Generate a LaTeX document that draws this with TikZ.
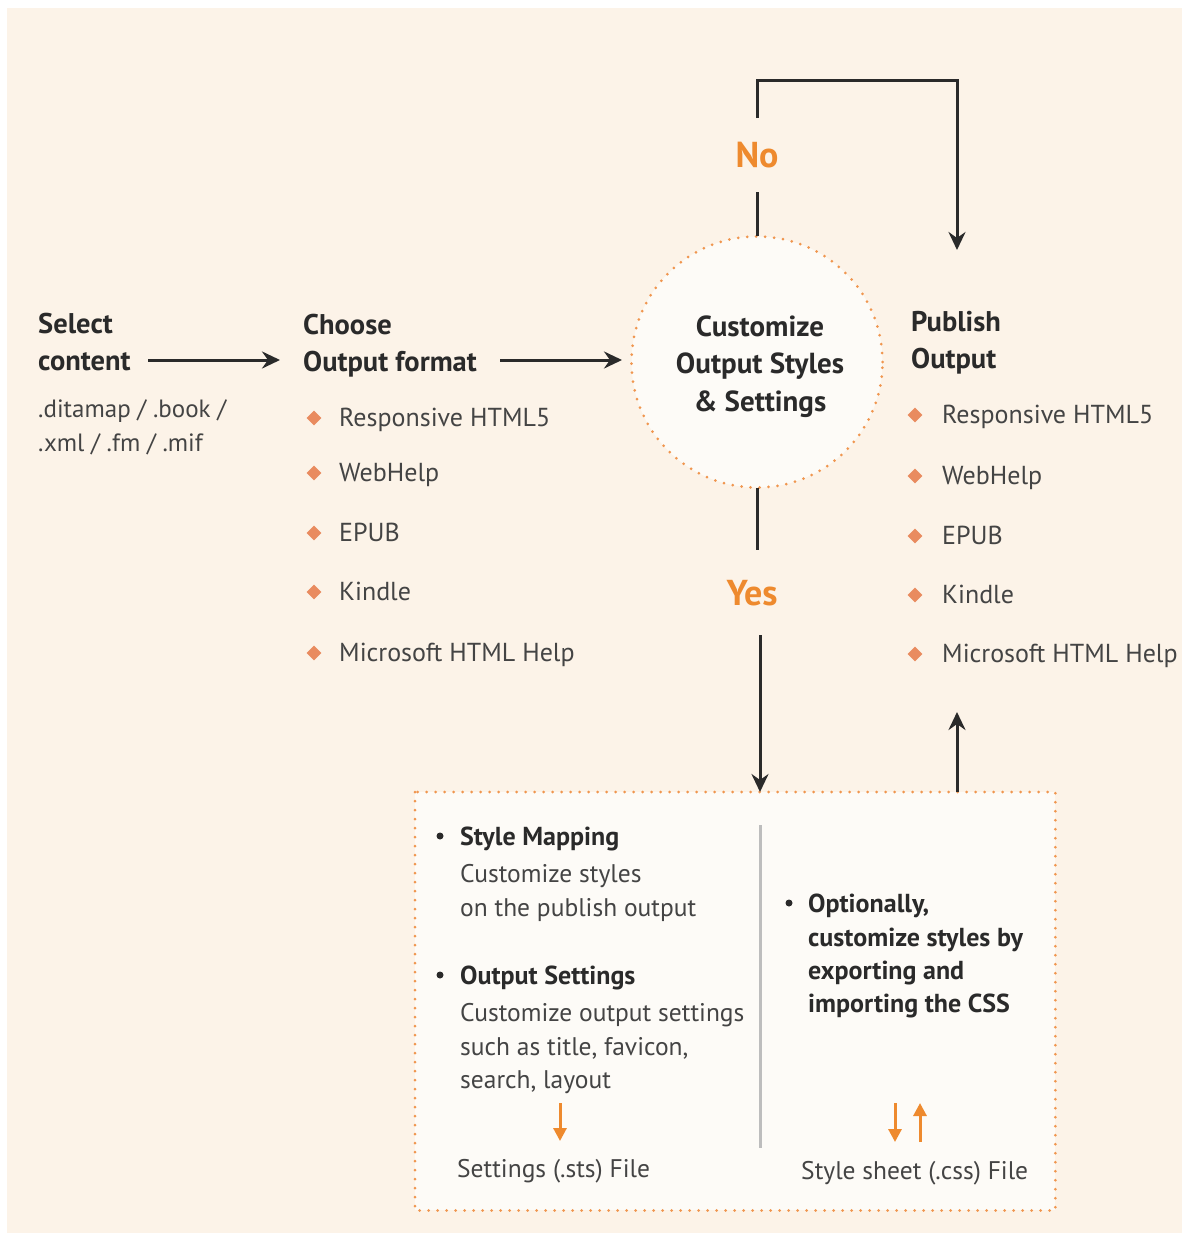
\documentclass[tikz,border=0pt]{standalone}
\usepackage{fontspec}
\setmainfont{PT Sans}
\usetikzlibrary{arrows.meta,shapes.geometric}
\definecolor{bgpeach}{HTML}{FCF3E8}
\definecolor{innerfill}{HTML}{FDFBF7}
\definecolor{dotorange}{HTML}{F0964F}
\definecolor{txtorange}{HTML}{EE8A2E}
\definecolor{bulorange}{HTML}{E98B5F}
\definecolor{txtdark}{HTML}{2A2A2A}
\definecolor{txtgray}{HTML}{444444}
\definecolor{divgray}{HTML}{BDBDBD}
\begin{document}
\begin{tikzpicture}[x=1pt,y=-1pt,
  hd/.style={font=\bfseries\fontsize{28.5}{32}\selectfont, text=txtdark, inner sep=0pt, anchor=base west},
  hdc/.style={font=\bfseries\fontsize{29}{32}\selectfont, text=txtdark, inner sep=0pt, anchor=base},
  item/.style={font=\fontsize{26}{30}\selectfont, text=txtgray, inner sep=0pt, anchor=base west},
  sub/.style={font=\fontsize{25}{30}\selectfont, text=txtgray, inner sep=0pt, anchor=base west},
  bxb/.style={font=\bfseries\fontsize{26}{30}\selectfont, text=txtdark, inner sep=0pt, anchor=base west},
  bxt/.style={font=\fontsize{25.5}{30}\selectfont, text=txtgray, inner sep=0pt, anchor=base west},
  yn/.style={font=\bfseries\fontsize{36}{40}\selectfont, text=txtorange, inner sep=0pt, anchor=base},
  dia/.style={diamond, fill=bulorange, minimum width=15pt, minimum height=15pt, inner sep=0pt},
  dot/.style={circle, fill=txtdark, minimum size=7pt, inner sep=0pt},
  dottedline/.style={draw=dotorange, line width=3pt, line cap=round, dash pattern=on 0pt off 9pt},
  ln/.style={draw=txtdark, line width=3pt},
  arr/.style={ln, -{Stealth[length=18pt,width=17pt,inset=6pt]}},
  oarr/.style={draw=txtorange, line width=3pt, -{Triangle[length=13pt,width=13pt]}}
]
\useasboundingbox (0,0) rectangle (1182,1234);
\fill[bgpeach] (7,8) rectangle (1182,1233);

% Select content
\node[hd] (sel1) at (38,333) {Select};
\node[hd] (sel2) at (38,370) {content};
\node[sub] (ext1) at (38,417) {.ditamap / .book /};
\node[sub] (ext2) at (38,451) {.xml / .fm / .mif};

% Choose output format
\node[hd] (ch1) at (303,334) {Choose};
\node[hd] (ch2) at (303,371) {Output format};
\foreach \i/\y/\t in {1/426/Responsive HTML5, 2/481/WebHelp, 3/541/EPUB, 4/600/Kindle, 5/661/Microsoft HTML Help}{
  \node[dia] (lb\i) at (314,\y-8) {};
  \node[item] (lt\i) at (339,\y) {\t};
}

% Circle
\node[circle, minimum size=251pt, inner sep=0pt, fill=innerfill] (circ) at (757,362) {};
\draw[dottedline] (circ.center) circle[radius=125.5pt];
\node[hdc] (c1) at (760,336) {Customize};
\node[hdc] (c2) at (760,373) {Output Styles};
\node[hdc] (c3) at (760,411) {\& Settings};

% Publish output
\node[hd] (pub1) at (911,331) {Publish};
\node[hd] (pub2) at (911,368) {Output};
\foreach \i/\y/\t in {1/423/Responsive HTML5, 2/484/WebHelp, 3/544/EPUB, 4/603/Kindle, 5/662/Microsoft HTML Help}{
  \node[dia] (rb\i) at (915,\y-8) {};
  \node[item] (rt\i) at (942,\y) {\t};
}

% Arrows between columns
\coordinate (a1s) at (148,360);
\coordinate (a1e) at (280,360);
\coordinate (a2s) at (500,360);
\coordinate (a2e) at (622,360);
\draw[arr] (a1s) -- (a1e);
\draw[arr] (a2s) -- (a2e);

% No loop
\node[yn] (no) at (757,167) {No};
\coordinate (noA) at (757,192);
\coordinate (noB) at (757,118);
\coordinate (noC) at (757,80);
\coordinate (noD) at (957,250);
\draw[ln] (circ.north) -- (noA);
\draw[arr] (noB) -- (noC) -| (noD);

% Yes
\node[yn] (yes) at (752,605) {Yes};
\coordinate (yesA) at (757,550);
\coordinate (yesB) at (760,635);
\draw[ln] (circ.south) -- (yesA);

% Bottom box
\node[rectangle, minimum width=640pt, minimum height=418pt, inner sep=0pt, anchor=north west, fill=innerfill] (box) at (415,792) {};
\draw[dottedline] (box.north west) rectangle (box.south east);
\coordinate (boxIn) at (760,792);
\coordinate (boxOut) at (957,792);
\coordinate (pubIn) at (957,712);
\draw[arr] (yesB) -- (boxIn);
\draw[arr] (boxOut) -- (pubIn);

\coordinate (divT) at (760,825);
\coordinate (divB) at (760,1148);
\draw[draw=divgray, line width=3pt] (divT) -- (divB);

% left column
\node[dot] (d1) at (440,836) {};
\node[bxb] (sm) at (460,845) {Style Mapping};
\node[bxt] (sm1) at (460,882) {Customize styles};
\node[bxt] (sm2) at (460,916) {on the publish output};
\node[dot] (d2) at (440,975) {};
\node[bxb] (os) at (460,984) {Output Settings};
\node[bxt] (os1) at (460,1021) {Customize output settings};
\node[bxt] (os2) at (460,1055) {such as title, favicon,};
\node[bxt] (os3) at (460,1088) {search, layout};
\coordinate (sa1) at (560,1103);
\coordinate (sa2) at (560,1141);
\draw[oarr] (sa1) -- (sa2);
\node[bxt] (stsf) at (457,1177) {Settings (.sts) File};

% right column
\node[dot] (d3) at (789,903) {};
\node[bxb] (op1) at (808,912) {Optionally,};
\node[bxb] (op2) at (808,946) {customize styles by};
\node[bxb] (op3) at (808,979) {exporting and};
\node[bxb] (op4) at (808,1012) {importing the CSS};
\coordinate (ca1) at (895,1103);
\coordinate (ca2) at (895,1142);
\coordinate (cb1) at (920,1142);
\coordinate (cb2) at (920,1103);
\draw[oarr] (ca1) -- (ca2);
\draw[oarr] (cb1) -- (cb2);
\node[bxt] (cssf) at (801,1179) {Style sheet (.css) File};
\end{tikzpicture}
\end{document}
